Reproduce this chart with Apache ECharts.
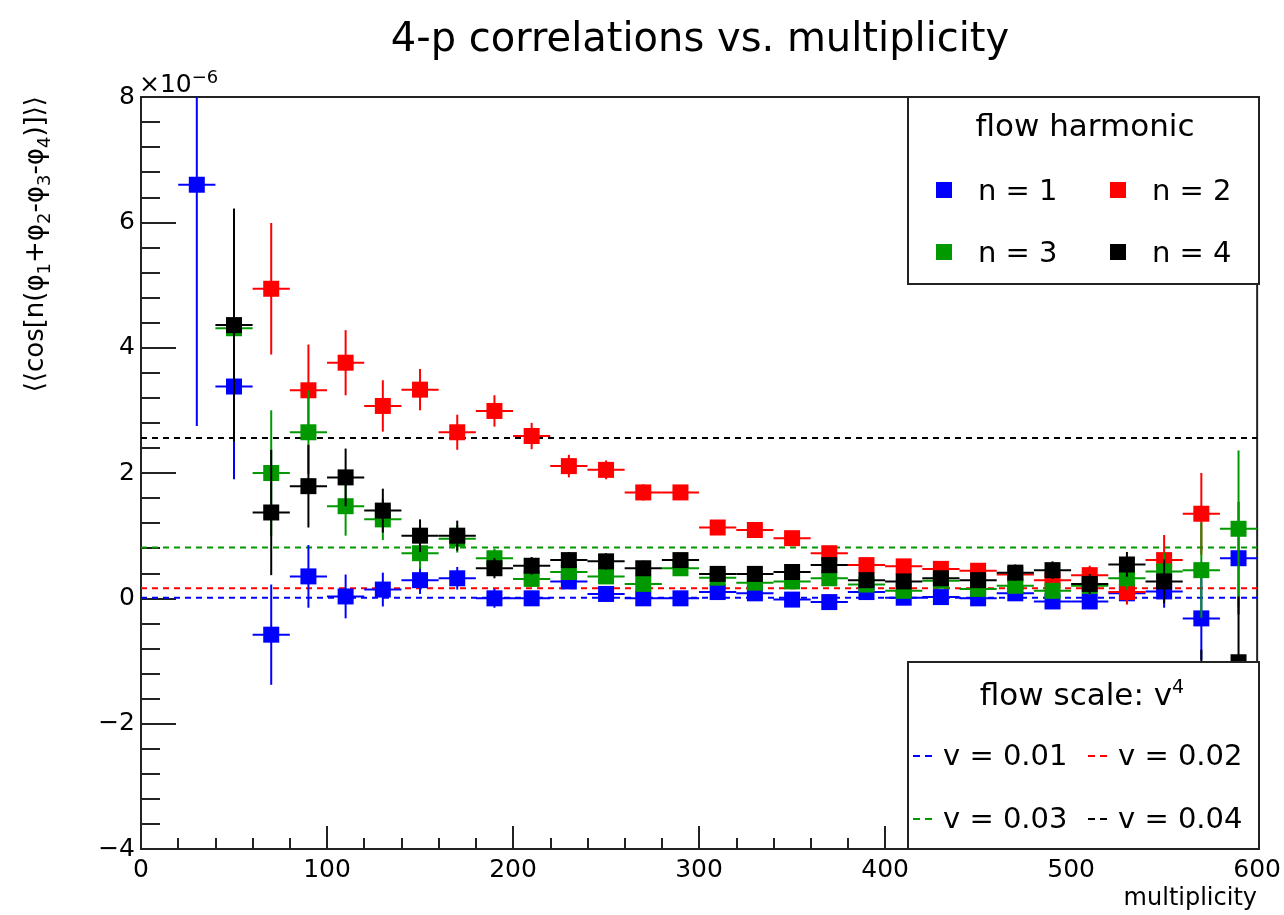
<!DOCTYPE html>
<html><head><meta charset="utf-8">
<script src="https://cdn.jsdelivr.net/npm/echarts@6/dist/echarts.min.js"></script>
<style>html,body{margin:0;padding:0;background:#fff}#c{width:1284px;height:915px}</style>
</head><body><div id="c"></div>
<script>
// ---- data (values in units of 1e-6) ----
const multiplicity = [30,50,70,90,110,130,150,170,190,210,230,250,270,290,310,330,350,370,390,410,430,450,470,490,510,530,550,570,590];
const n1Values = [6.60,3.38,-0.58,0.35,0.03,0.14,0.29,0.32,0.00,0.00,0.27,0.07,0.00,0.00,0.10,0.08,-0.02,-0.06,0.10,0.01,0.02,0.00,0.08,-0.05,-0.05,0.08,0.11,-0.32,0.64];
const n1Errors = [3.85,1.48,0.80,0.50,0.35,0.27,0.22,0.18,0.15,0.12,0.11,0.10,0.09,0.09,0.08,0.08,0.08,0.08,0.08,0.08,0.08,0.08,0.09,0.10,0.10,0.15,0.26,0.66,0.90];
const n2Values = [null,null,4.94,3.32,3.76,3.07,3.33,2.65,2.99,2.59,2.11,2.05,1.69,1.69,1.13,1.09,0.96,0.72,0.53,0.51,0.47,0.44,0.38,0.29,0.37,0.10,0.61,1.35,null];
const n2Errors = [null,null,1.05,0.73,0.52,0.41,0.33,0.28,0.25,0.21,0.18,0.15,0.13,0.12,0.11,0.10,0.10,0.10,0.10,0.10,0.10,0.11,0.12,0.13,0.15,0.20,0.40,0.65,null];
const n3Values = [null,4.31,2.00,2.65,1.47,1.26,0.72,0.95,0.64,0.31,0.42,0.35,0.23,0.48,0.33,0.25,0.27,0.32,0.22,0.12,0.28,0.15,0.20,0.12,0.20,0.32,0.43,0.45,1.11];
const n3Errors = [null,1.81,1.00,0.67,0.47,0.33,0.25,0.22,0.15,0.13,0.12,0.11,0.10,0.10,0.09,0.09,0.09,0.09,0.09,0.09,0.10,0.10,0.11,0.12,0.14,0.18,0.30,0.76,1.25];
const n4Values = [null,4.36,1.37,1.79,1.93,1.40,1.00,1.00,0.48,0.52,0.61,0.59,0.48,0.61,0.39,0.39,0.42,0.53,0.29,0.27,0.32,0.29,0.41,0.45,0.23,0.54,0.27,-1.80,-1.02];
const n4Errors = [null,1.86,1.00,0.66,0.46,0.35,0.26,0.24,0.16,0.14,0.13,0.13,0.12,0.11,0.10,0.10,0.10,0.10,0.10,0.10,0.11,0.12,0.13,0.14,0.16,0.20,0.35,0.98,1.05];
const binHalfWidth = 10;
const harmonicLabels = ['n = 1','n = 2','n = 3','n = 4'];
const flowScaleLabels = ['v = 0.01','v = 0.02','v = 0.03','v = 0.04'];
const flowScaleLevels = [0.01,0.16,0.81,2.56];
const xRange = [0,600], xStep = 100;
const yRange = [-4,8], yStep = 2;

// ---- styling ----
const FONT = 'DejaVu Sans';
const colors = ['#0000ff','#ff0000','#009900','#000000'];
const AX = '#222';

function pack(vals, errs){
  const out = [];
  for (let i = 0; i < multiplicity.length; i++) {
    if (vals[i] !== null) out.push([multiplicity[i], vals[i], errs[i]]);
  }
  return out;
}
const seriesData = [pack(n1Values,n1Errors), pack(n2Values,n2Errors), pack(n3Values,n3Errors), pack(n4Values,n4Errors)];

function makeRender(color){
  return function(params, api){
    const x = api.value(0), y = api.value(1), e = api.value(2);
    const c = api.coord([x, y]);
    const t = api.coord([x, y + e]);
    const b = api.coord([x, y - e]);
    const l = api.coord([x - binHalfWidth, y]);
    const r = api.coord([x + binHalfWidth, y]);
    return {type:'group', children:[
      {type:'line', shape:{x1:c[0], y1:t[1], x2:c[0], y2:b[1]}, style:{stroke:color, lineWidth:2}},
      {type:'line', shape:{x1:l[0], y1:c[1], x2:r[0], y2:c[1]}, style:{stroke:color, lineWidth:2}},
      {type:'rect', shape:{x:c[0]-8, y:c[1]-8, width:16, height:16}, style:{fill:color}}
    ]};
  };
}

const series = [];
flowScaleLevels.forEach(function(lvl, i){
  series.push({type:'line', name:flowScaleLabels[i], data:[[xRange[0], lvl],[xRange[1], lvl]],
    showSymbol:false, silent:true, z:1, animation:false,
    lineStyle:{color:colors[i], width:2, type:[6,5]}});
});
seriesData.forEach(function(d, i){
  series.push({type:'custom', name:harmonicLabels[i], data:d, renderItem:makeRender(colors[i]),
    clip:true, z:2+i, animation:false, encode:{x:0, y:1}});
});

// legend graphics
const g = [];
const boxStyle = {fill:'#fff', stroke:AX, lineWidth:2};
g.push({type:'rect', z:100, shape:{x:908, y:97, width:351, height:187}, style:boxStyle});
g.push({type:'text', z:101, x:1085, y:128, style:{text:'flow harmonic', font:'31px "'+FONT+'"', fill:'#000', align:'center', verticalAlign:'middle'}});
const mPos = [[944,190],[1118,190],[944,252],[1118,252]];
harmonicLabels.forEach(function(lab, i){
  g.push({type:'rect', z:101, shape:{x:mPos[i][0]-8, y:mPos[i][1]-8, width:16, height:16}, style:{fill:colors[i]}});
  g.push({type:'text', z:101, x:mPos[i][0]+34, y:mPos[i][1]+2, style:{text:lab, font:'29px "'+FONT+'"', fill:'#000', align:'left', verticalAlign:'middle'}});
});
g.push({type:'rect', z:100, shape:{x:908, y:662, width:351, height:187}, style:boxStyle});
g.push({type:'text', z:101, x:1082, y:697, style:{text:'flow scale: v{sup|4}', fill:'#000', align:'center', verticalAlign:'middle',
  rich:{sup:{fontFamily:FONT, fontSize:19, verticalAlign:'top', lineHeight:20}}, fontFamily:FONT, fontSize:31, lineHeight:36}});
const dPos = [[913,756],[1088,756],[913,819],[1088,819]];
flowScaleLabels.forEach(function(lab, i){
  g.push({type:'line', z:101, shape:{x1:dPos[i][0], y1:dPos[i][1], x2:dPos[i][0]+19, y2:dPos[i][1]}, style:{stroke:colors[i], lineWidth:2, lineDash:[7,5]}});
  g.push({type:'text', z:101, x:dPos[i][0]+30, y:dPos[i][1]+1, style:{text:lab, font:'29px "'+FONT+'"', fill:'#000', align:'left', verticalAlign:'middle'}});
});
// y title (rotated), exponent, x title
g.push({type:'text', z:101, x:36, y:96, rotation:Math.PI/2, style:{
  text:'⟨⟨cos[n(φ{sub|1}+φ{sub|2}-φ{sub|3}-φ{sub|4})]⟩⟩', fill:'#000', align:'right', verticalAlign:'middle',
  fontFamily:FONT, fontSize:26, lineHeight:36,
  rich:{sub:{fontFamily:FONT, fontSize:18, lineHeight:18, verticalAlign:'bottom'}}}});
g.push({type:'text', z:101, x:139, y:101, style:{text:'×10{sup|−6}', fill:'#000', align:'left', verticalAlign:'bottom',
  fontFamily:FONT, fontSize:25, lineHeight:32, rich:{sup:{fontFamily:FONT, fontSize:18, lineHeight:18, verticalAlign:'top'}}}});
g.push({type:'text', z:101, x:1257, y:899, style:{text:'multiplicity', font:'24px "'+FONT+'"', fill:'#000', align:'right', verticalAlign:'middle'}});

const chart = echarts.init(document.getElementById('c'), null, {renderer:'canvas'});
chart.setOption({
  backgroundColor:'#fff',
  animation:false,
  title:{text:'4-p correlations vs. multiplicity', left:695, top:16, textAlign:'center',
    textStyle:{fontFamily:FONT, fontSize:40, fontWeight:'normal', color:'#000'}},
  grid:{left:141, top:97, width:1118, height:752, show:true, borderColor:AX, borderWidth:2, backgroundColor:'transparent'},
  xAxis:{type:'value', min:xRange[0], max:xRange[1], interval:xStep,
    axisLine:{onZero:false, lineStyle:{color:AX, width:2}},
    axisTick:{inside:true, length:23, lineStyle:{color:AX, width:2}},
    minorTick:{show:true, splitNumber:5, length:11, lineStyle:{color:AX, width:2}},
    splitLine:{show:false}, minorSplitLine:{show:false},
    axisLabel:{fontFamily:FONT, fontSize:25, color:'#000', margin:9}},
  yAxis:{type:'value', min:yRange[0], max:yRange[1], interval:yStep,
    axisLine:{onZero:false, lineStyle:{color:AX, width:2}},
    axisTick:{inside:true, length:35, lineStyle:{color:AX, width:2}},
    minorTick:{show:true, splitNumber:5, length:19, lineStyle:{color:AX, width:2}},
    splitLine:{show:false}, minorSplitLine:{show:false},
    axisLabel:{fontFamily:FONT, fontSize:25, color:'#000', margin:6,
      formatter:function(v){ return String(v).replace('-', '−'); }}},
  graphic:{elements:g},
  series:series
});
</script></body></html>
